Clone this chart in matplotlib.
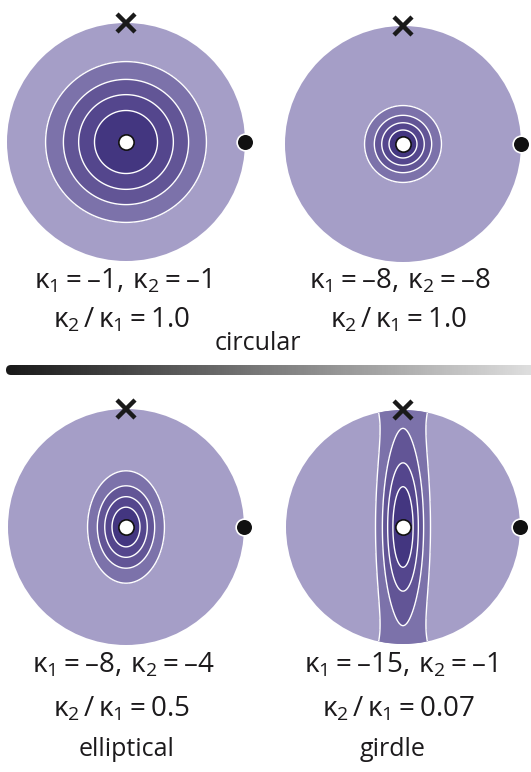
"""Bingham distributions on equal-area stereonets for four kappa pairs."""

import numpy as np
import matplotlib
matplotlib.use("Agg")
import matplotlib.pyplot as plt
from matplotlib.patches import Circle, FancyBboxPatch

plt.rcParams["font.family"] = ["Open Sans", "DejaVu Sans"]
plt.rcParams["mathtext.fontset"] = "custom"
plt.rcParams["mathtext.rm"] = "Open Sans"
plt.rcParams["mathtext.it"] = "Open Sans"
plt.rcParams["mathtext.bf"] = "Open Sans"

# concentration parameters for each panel
kappa1 = [-1, -8, -8, -15]
kappa2 = [-1, -8, -4, -1]
ratio_labels = ["1.0", "1.0", "0.5", "0.07"]
shape_labels = ["circular", "elliptical", "girdle"]

# layout (pixels)
centers = [(126, 142), (403, 144), (126, 527), (403, 527)]
radii = [119, 118, 118, 117]

BG = "#a59ec7"
FILL = ["#7c72aa", "#625596", "#54468d", "#433680"]
TXT = "#1c1a1c"

W, H = 531, 772
fig = plt.figure(figsize=(W / 100, H / 100), dpi=100)
ax = fig.add_axes([0, 0, 1, 1])
ax.set_xlim(0, W)
ax.set_ylim(H, 0)
ax.set_aspect("equal")
ax.axis("off")

g = np.linspace(-1.05, 1.05, 500)
gx, gy = np.meshgrid(g, g)

for i in range(4):
    cx, cy = centers[i]
    R = radii[i]
    k1, k2 = kappa1[i], kappa2[i]

    # lambert equal-area back-projection onto lower hemisphere
    rho2 = np.minimum(gx ** 2 + gy ** 2, 1.0)
    s = np.sqrt(2 - rho2)
    u1 = gx * s
    u2 = gy * s
    dens = np.exp(k1 * u1 ** 2 + k2 * u2 ** 2)
    dmin = np.exp(min(k1, k2))
    levels = np.linspace(dmin, 1.0, 6)

    ax.add_patch(Circle((cx, cy), R, facecolor=BG, edgecolor="none", zorder=1))
    clip = Circle((cx, cy), R, transform=ax.transData)

    X = cx + R * gx
    Y = cy - R * gy
    cf = ax.contourf(X, Y, dens, levels=list(levels[1:-1]) + [1.01],
                     colors=FILL, zorder=2)
    cf.set_clip_path(clip)
    cl = ax.contour(X, Y, dens, levels=levels[1:-1], colors="white",
                    linewidths=1.0, zorder=3)
    cl.set_clip_path(clip)

    # pole markers
    ax.plot(cx, cy, "o", ms=11, mfc="white", mec="#111111", mew=1.2, zorder=5)
    ax.plot(cx, cy - R, "x", ms=13, mec="#1a1a1a", mew=3.2, zorder=5)
    ax.plot(cx + R, cy, "o", ms=12, mfc="#111111", mec="white", mew=1.2, zorder=5)

    # labels
    ty = 281 if i < 2 else 665
    ax.text(cx - 3, ty, rf"$\kappa_1 = –{abs(k1)},\,\kappa_2 = –{abs(k2)}$",
            ha="center", va="center", fontsize=20, color=TXT)
    ax.text(cx - 4, ty + 39 if i < 2 else ty + 44,
            rf"$\kappa_2\,/\,\kappa_1 = {ratio_labels[i]}$",
            ha="center", va="center", fontsize=20, color=TXT)

ax.text(258, 344, shape_labels[0], ha="center", va="center", fontsize=18,
        color=TXT)
ax.text(127, 750, shape_labels[1], ha="center", va="center", fontsize=18,
        color=TXT)
ax.text(393, 750, shape_labels[2], ha="center", va="center", fontsize=18,
        color=TXT)

# shading bar from circular towards girdle
grad = np.linspace(0.1, 0.87, 256).reshape(1, -1)
bar = FancyBboxPatch((6, 365), 540, 10, boxstyle="round,pad=0,rounding_size=5",
                     facecolor="none", edgecolor="none", transform=ax.transData)
ax.add_patch(bar)
im = ax.imshow(grad, cmap="gray", vmin=0, vmax=1, aspect="auto",
               extent=(6, W, 375, 365), zorder=1)
im.set_clip_path(bar)
ax.set_xlim(0, W)
ax.set_ylim(H, 0)

fig.savefig("out.png", dpi=100)
